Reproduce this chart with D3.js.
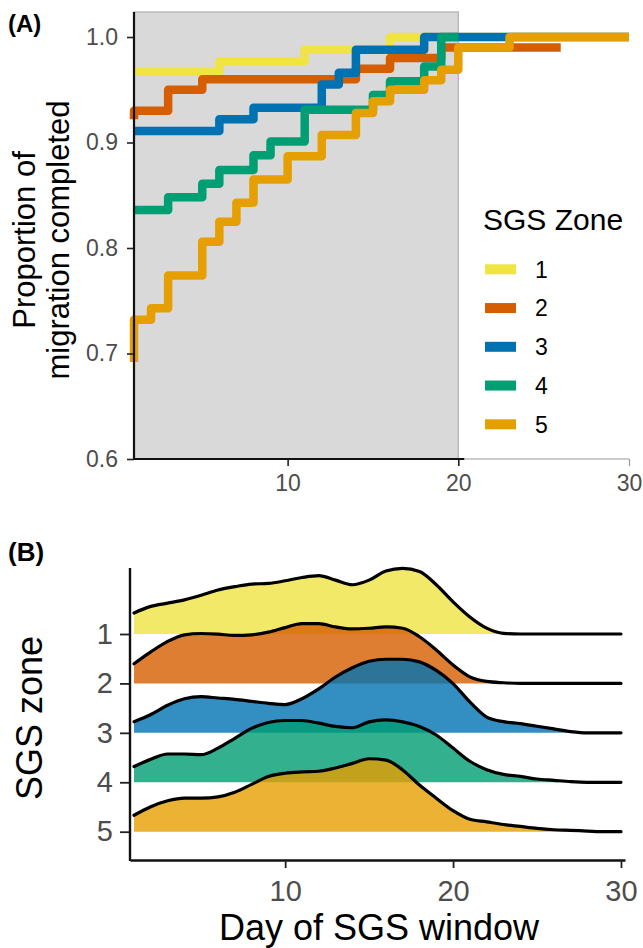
<!DOCTYPE html>
<html>
<head>
<meta charset="utf-8">
<script src="https://cdn.jsdelivr.net/npm/d3@7"></script>
<style>
  body { margin: 0; background: #fff; }
  svg text { font-family: "Liberation Sans", Arial, sans-serif; }
</style>
</head>
<body>
<svg id="chart"></svg>
<script>
// ---- data ----
const zones = [1, 2, 3, 4, 5];
const zoneColors = ["#F0E442", "#D55E00", "#0072B2", "#009E73", "#E69F00"];

// Panel A: proportion of migration completed, step points [day, proportion]
const stepZone1 = [[1, 0.967], [6, 0.977], [11, 0.988], [16, 1.0], [30, 1.0]];
const stepZone2 = [[1, 0.922], [1, 0.930], [3, 0.950], [5, 0.960], [14, 0.970], [16, 0.980], [19, 0.990], [26, 0.990]];
const stepZone3 = [[1, 0.911], [6, 0.922], [8, 0.933], [12, 0.955], [13, 0.966], [14, 0.988], [18, 1.0], [30, 1.0]];
const stepZone4 = [[1, 0.836], [3, 0.848], [5, 0.861], [6, 0.874], [8, 0.888], [9, 0.901], [11, 0.931],
                   [15, 0.945], [16, 0.958], [18, 0.972], [19, 1.0], [20, 1.0]];
const stepZone5 = [[1, 0.692], [1, 0.732], [2, 0.743], [3, 0.774], [5, 0.806], [6, 0.825], [7, 0.843], [8, 0.865],
                   [10, 0.887], [12, 0.907], [14, 0.928], [15, 0.939], [16, 0.950], [18, 0.959], [19, 0.969],
                   [20, 0.990], [23, 1.0], [30, 1.0]];
const propTicks = [0.6, 0.7, 0.8, 0.9, 1.0];
const dayTicks = [10, 20, 30];
const sgsWindowEnd = 20;

// Panel B: density of migration completion by day, per zone
const days = [1, 2, 3, 4, 5, 6, 7, 8, 9, 10, 11, 12, 13, 14, 15, 16, 17, 18, 19, 20, 21, 22, 23, 24, 25, 26, 27, 28, 29, 30];
const densZone1 = [0.032, 0.042, 0.047, 0.052, 0.059, 0.067, 0.072, 0.076, 0.077, 0.081, 0.086, 0.089, 0.082, 0.075, 0.082,
                   0.096, 0.100, 0.095, 0.075, 0.049, 0.026, 0.009, 0.001, 0, 0, 0, 0, 0, 0, 0];
const densZone2 = [0.030, 0.048, 0.064, 0.074, 0.076, 0.075, 0.073, 0.074, 0.078, 0.085, 0.091, 0.091, 0.086, 0.083, 0.084,
                   0.086, 0.084, 0.071, 0.051, 0.028, 0.010, 0.003, 0.001, 0, 0, 0, 0, 0, 0, 0];
const densZone3 = [0.017, 0.028, 0.042, 0.052, 0.055, 0.053, 0.051, 0.048, 0.045, 0.043, 0.052, 0.067, 0.085, 0.099, 0.109,
                   0.112, 0.112, 0.108, 0.095, 0.075, 0.047, 0.024, 0.017, 0.014, 0.010, 0.006, 0.002, 0, 0, 0];
const densZone4 = [0.024, 0.035, 0.043, 0.043, 0.042, 0.052, 0.067, 0.082, 0.091, 0.094, 0.094, 0.090, 0.085, 0.083, 0.092,
                   0.095, 0.092, 0.085, 0.072, 0.052, 0.032, 0.019, 0.012, 0.009, 0.005, 0.003, 0.001, 0, 0, 0];
const densZone5 = [0.025, 0.038, 0.047, 0.051, 0.051, 0.053, 0.060, 0.072, 0.084, 0.089, 0.091, 0.092, 0.097, 0.104, 0.111,
                   0.109, 0.094, 0.071, 0.051, 0.032, 0.019, 0.015, 0.011, 0.008, 0.005, 0.003, 0.002, 0.001, 0, 0];

const stepData = [stepZone1, stepZone2, stepZone3, stepZone4, stepZone5];
const densData = [densZone1, densZone2, densZone3, densZone4, densZone5];

// ---- layout ----
const W = 643, H = 948;
const TICK_TXT = "#4d4d4d";

const svg = d3.select("#chart").attr("width", W).attr("height", H);

// =============== Panel A ===============
const xA = d3.scaleLinear().domain([1, 30]).range([134, 629]);
const yA = d3.scaleLinear().domain([0.6, 1.0]).range([459, 37]);
const yTop = 12;
const a = svg.append("g");

// shaded SGS window
a.append("rect")
  .attr("x", xA(1)).attr("y", yTop)
  .attr("width", xA(sgsWindowEnd) - xA(1))
  .attr("height", yA(0.6) - yTop)
  .attr("fill", "#d9d9d9")
  .attr("stroke", "#b3b3b3").attr("stroke-width", 1.3);

const stepLine = d3.line()
  .x(d => xA(d[0])).y(d => yA(d[1]))
  .curve(d3.curveStepAfter);

stepData.forEach((s, i) => {
  a.append("path").datum(s)
    .attr("fill", "none")
    .attr("stroke", zoneColors[i])
    .attr("stroke-width", 8.5)
    .attr("stroke-linejoin", "round")
    .attr("d", stepLine);
});

// y axis
const yAxA = a.append("g")
  .attr("transform", `translate(${xA(1)},0)`)
  .call(d3.axisLeft(yA).tickValues(propTicks).tickFormat(d3.format(".1f")).tickSize(7).tickPadding(9));
yAxA.select(".domain").remove();
yAxA.selectAll(".tick line").attr("stroke", "#222").attr("stroke-width", 1.6);
yAxA.selectAll(".tick text").attr("font-size", 23).attr("fill", TICK_TXT).attr("font-family", null);
a.append("line")
  .attr("x1", xA(1)).attr("x2", xA(1))
  .attr("y1", yTop).attr("y2", yA(0.6) + 1)
  .attr("stroke", "#111").attr("stroke-width", 2.2);

// x axis
const xAxA = a.append("g")
  .attr("transform", `translate(0,${yA(0.6)})`)
  .call(d3.axisBottom(xA).tickValues(dayTicks).tickSize(7).tickPadding(9));
xAxA.select(".domain").remove();
xAxA.selectAll(".tick line")
  .attr("stroke", d => d > sgsWindowEnd ? "#999" : "#222")
  .attr("stroke-width", d => d > sgsWindowEnd ? 1.2 : 1.6);
xAxA.selectAll(".tick text").attr("font-size", 23).attr("fill", TICK_TXT).attr("font-family", null);
a.append("line")
  .attr("x1", xA(sgsWindowEnd) + 6).attr("x2", xA(30))
  .attr("y1", yA(0.6)).attr("y2", yA(0.6))
  .attr("stroke", "#999").attr("stroke-width", 1.2);
a.append("line")
  .attr("x1", xA(1) - 1).attr("x2", xA(sgsWindowEnd) + 6)
  .attr("y1", yA(0.6)).attr("y2", yA(0.6))
  .attr("stroke", "#111").attr("stroke-width", 2.2);

// axis title (two lines)
const yMidA = 240;
a.append("text")
  .attr("transform", `translate(35,${yMidA}) rotate(-90)`)
  .attr("text-anchor", "middle").attr("font-size", 31).attr("fill", "#000")
  .text("Proportion of");
a.append("text")
  .attr("transform", `translate(69,${yMidA}) rotate(-90)`)
  .attr("text-anchor", "middle").attr("font-size", 31).attr("fill", "#000")
  .text("migration completed");

// legend
const legY = d3.scaleLinear().domain([1, 5]).range([269.3, 424.3]);
a.append("text")
  .attr("x", 483).attr("y", 230)
  .attr("font-size", 30).attr("fill", "#000")
  .text("SGS Zone");
zones.forEach((z, i) => {
  a.append("rect")
    .attr("x", 485).attr("y", legY(z) - 5)
    .attr("width", 31).attr("height", 10)
    .attr("fill", zoneColors[i]);
  a.append("text")
    .attr("x", 535).attr("y", legY(z)).attr("dy", "0.36em")
    .attr("font-size", 23).attr("fill", "#000")
    .text(z);
});

a.append("text")
  .attr("x", 8).attr("y", 32)
  .attr("font-size", 24).attr("font-weight", 700).attr("fill", "#000")
  .text("(A)");

// =============== Panel B ===============
const xB = d3.scaleLinear().domain([0.76, 30.24]).range([130, 625]);
const yB = d3.scaleLinear().domain([1, 5]).range([634, 831.7]);
const hB = d3.scaleLinear().domain([0, 0.1]).range([0, 65.7]);
const b = svg.append("g");

zones.forEach((z, i) => {
  const base = yB(z);
  const area = d3.area()
    .x((d, j) => xB(days[j]))
    .y0(base).y1(d => base - hB(d))
    .curve(d3.curveMonotoneX);
  const line = d3.line()
    .x((d, j) => xB(days[j]))
    .y(d => base - hB(d))
    .curve(d3.curveMonotoneX);
  b.append("path").datum(densData[i])
    .attr("fill", zoneColors[i]).attr("fill-opacity", 0.8)
    .attr("d", area);
  b.append("path").datum(densData[i])
    .attr("fill", "none").attr("stroke", "#000")
    .attr("stroke-width", 3.2)
    .attr("stroke-linejoin", "round").attr("stroke-linecap", "round")
    .attr("d", line);
});

// y axis
const yAxB = b.append("g")
  .attr("transform", "translate(130,0)")
  .call(d3.axisLeft(yB).tickValues(zones).tickFormat(d3.format("d")).tickSize(10).tickPadding(7));
yAxB.select(".domain").remove();
yAxB.selectAll(".tick line").attr("stroke", "#222").attr("stroke-width", 1.8);
yAxB.selectAll(".tick text").attr("font-size", 29).attr("fill", TICK_TXT).attr("font-family", null);
b.append("line")
  .attr("x1", 130).attr("x2", 130)
  .attr("y1", 568).attr("y2", 861)
  .attr("stroke", "#111").attr("stroke-width", 2.4);

// x axis
const xAxB = b.append("g")
  .attr("transform", "translate(0,860)")
  .call(d3.axisBottom(xB).tickValues(dayTicks).tickSize(8).tickSizeOuter(0).tickPadding(12));
xAxB.select(".domain").attr("stroke", "#111").attr("stroke-width", 2.4);
xAxB.selectAll(".tick line").attr("stroke", "#222").attr("stroke-width", 1.8);
xAxB.selectAll(".tick text").attr("font-size", 29).attr("fill", TICK_TXT).attr("font-family", null);

b.append("text")
  .attr("transform", "translate(42,718) rotate(-90)")
  .attr("text-anchor", "middle").attr("font-size", 36).attr("fill", "#000")
  .text("SGS zone");
b.append("text")
  .attr("x", 379).attr("y", 940)
  .attr("text-anchor", "middle").attr("font-size", 36).attr("fill", "#000")
  .text("Day of SGS window");

b.append("text")
  .attr("x", 8).attr("y", 561)
  .attr("font-size", 26).attr("font-weight", 700).attr("fill", "#000")
  .text("(B)");
</script>
</body>
</html>
